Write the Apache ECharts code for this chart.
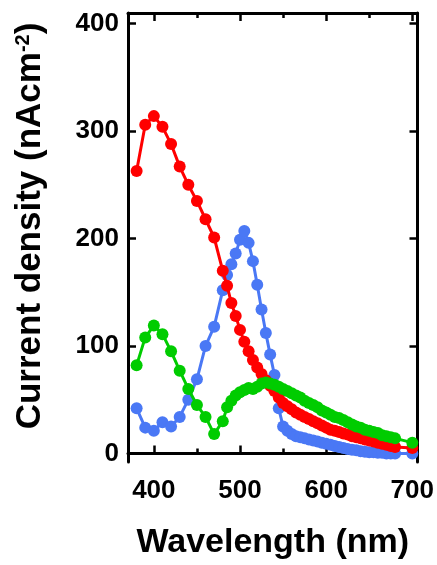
<!DOCTYPE html>
<html>
<head>
<meta charset="utf-8">
<script src="https://cdn.jsdelivr.net/npm/echarts@6/dist/echarts.min.js"></script>
<style>
html,body{margin:0;padding:0;background:#fff;}
#chart{width:437px;height:565px;}
</style>
</head>
<body>
<div id="chart"></div>
<script>
// Wavelengths (nm)
const wavelengths = [380,390,400,410,420,430,440,450,460,470,
  480,485,490,495,500,505,510,515,520,525,530,535,540,545,550,555,560,565,570,575,
  580,585,590,595,600,605,610,615,620,625,630,635,640,645,650,655,660,665,670,675,680,700];
// Current density (nA cm^-2)
const redValues = [263,306,314,304,288,267,250,235,218,201,
  170,156,140,128,115,104,95,87,80,74,68,63,58,52,47,44,41,38,36,34,
  32,30,28,26,24,22,21,20,18.5,17.5,16,15,14,13,12,11,10,9,8,7,6,5];
const blueValues = [42,24,21,29,25,34,50,69,100,118,
  152,166,176,186,199,207,196,179,157,134,112,92,73,42,25,21,18,16,15,14,
  13,12,11,10,9,8,7,6,5,4,3.5,3,2,1.5,1,1,0.5,0.5,0,0,0,0];
const greenValues = [82,108,119,111,95,77,60,45,34,18,
  30,43,49,54,57,59,61,60,62,65,66,65,64,62,60,58,56,54,52,49,
  47,45,43,40,38,36,34,33,31,29,27,25,24,22,21,20,19,17,16,15,14,10];
const xMajorTicks = [400,500,600,700];
const xMinorTicks = [450,550,650];
const yTicks = [0,100,200,300,400];

const pairs = v => wavelengths.map((w,i)=>[w,v[i]]);
const FONT = '"Liberation Sans", Arial, sans-serif';

const chart = echarts.init(document.getElementById('chart'), null, {renderer:'canvas'});
const lineStyleAxis = {show:true, lineStyle:{color:'#000', width:3}};
const xBase = {type:'value', min:370, max:706, splitLine:{show:false}};
const yBase = {type:'value', min:-8, max:410, splitLine:{show:false}};

const mkSeries = (vals, color, z) => ({
  type:'line', data:pairs(vals), xAxisIndex:0, yAxisIndex:0,
  symbol:'circle', symbolSize:12, showSymbol:true,
  lineStyle:{color, width:3}, itemStyle:{color, borderWidth:0}, z, animation:false
});

chart.setOption({
  animation:false,
  grid:{left:128, top:13, right:17, bottom:102, containLabel:false},
  xAxis:[
    Object.assign({}, xBase, {position:'bottom', axisLine:lineStyleAxis,
      axisTick:{show:true, inside:true, length:8, customValues:xMajorTicks, lineStyle:{color:'#000', width:2.5}},
      axisLabel:{show:true, customValues:xMajorTicks, margin:16, color:'#000', fontSize:26, fontWeight:'bold', fontFamily:FONT},
      name:'Wavelength (nm)', nameLocation:'middle', nameGap:64,
      nameTextStyle:{color:'#000', fontSize:34, fontWeight:'bold', fontFamily:FONT}}),
    Object.assign({}, xBase, {position:'bottom', axisLine:{show:false},
      axisTick:{show:true, inside:true, length:5, customValues:xMinorTicks, lineStyle:{color:'#000', width:2.5}},
      axisLabel:{show:false}}),
    Object.assign({}, xBase, {position:'top', axisLine:lineStyleAxis,
      axisTick:{show:true, inside:true, length:8, customValues:xMajorTicks, lineStyle:{color:'#000', width:2.5}},
      axisLabel:{show:false}}),
    Object.assign({}, xBase, {position:'top', axisLine:{show:false},
      axisTick:{show:true, inside:true, length:5, customValues:xMinorTicks, lineStyle:{color:'#000', width:2.5}},
      axisLabel:{show:false}})
  ],
  yAxis:[
    Object.assign({}, yBase, {position:'left', axisLine:lineStyleAxis,
      axisTick:{show:true, inside:true, length:8, customValues:yTicks, lineStyle:{color:'#000', width:2.5}},
      axisLabel:{show:true, customValues:yTicks, margin:9, color:'#000', fontSize:26, fontWeight:'bold', fontFamily:FONT},
      name:'{m|Current density (nAcm}{s|-2}{m|)}', nameLocation:'middle', nameGap:80, nameRotate:90,
      nameTextStyle:{color:'#000', fontFamily:FONT, padding:[0,0,0,23],
        rich:{
          m:{fontSize:35, fontWeight:'bold', color:'#000', fontFamily:FONT},
          s:{fontSize:20, fontWeight:'bold', color:'#000', fontFamily:FONT, verticalAlign:'top', padding:[0,0,14,0]}
        }}}),
    Object.assign({}, yBase, {position:'right', axisLine:lineStyleAxis,
      axisTick:{show:true, inside:true, length:8, customValues:yTicks, lineStyle:{color:'#000', width:2.5}},
      axisLabel:{show:false}})
  ],
  series:[
    mkSeries(blueValues, '#4A78F5', 2),
    mkSeries(redValues, '#FF0000', 3),
    mkSeries(greenValues, '#00CC00', 4)
  ]
});
</script>
</body>
</html>
